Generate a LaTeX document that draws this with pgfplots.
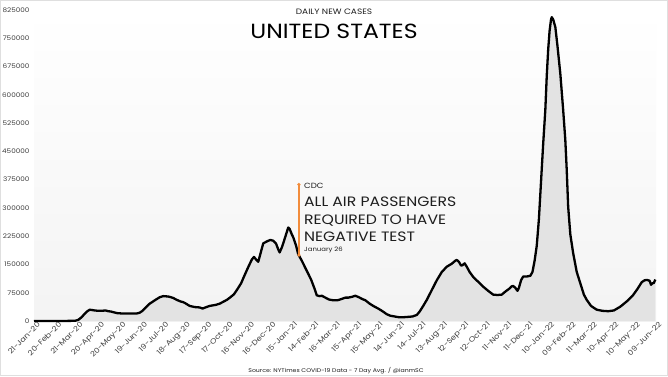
\documentclass[border=0pt]{standalone}
\usepackage{pgfplots}
\pgfplotsset{compat=1.18}
\usepackage{pgfplotstable}
\usepackage{fontspec}
\setmainfont{Poppins}[FakeStretch=1.15]
\definecolor{annot}{HTML}{F28C3C}
\definecolor{txt}{HTML}{1E1E1E}
\definecolor{areafill}{HTML}{E3E3E3}

\pgfplotstableread{
day cases
0 0
30 200
50 300
58 800
62 3000
66 9000
70 17000
74 25000
78 30000
85 28000
90 27000
95 27000
100 28000
104 26000
108 25000
112 23000
116 21000
123 20000
130 20000
137 20000
144 20000
148 22000
152 27000
156 35000
162 46000
166 51000
170 56000
176 63000
181 66000
188 65000
192 63000
195 61000
200 56000
205 52000
209 50000
212 47000
218 40000
225 37000
232 36000
236 33000
240 36000
246 40000
255 43000
260 46000
265 51000
270 56000
275 63000
280 71000
284 82000
290 100000
295 122000
300 143000
305 163000
308 170000
311 163000
314 157000
318 185000
321 206000
327 212000
331 215000
335 213000
339 205000
342 190000
344 182000
347 195000
350 212000
353 230000
356 248000
358 244000
361 230000
363 222000
367 200000
370 177000
375 160000
382 133000
388 110000
393 85000
396 68000
400 66000
403 67000
408 62000
413 57000
419 55000
425 55000
430 58000
436 62000
440 62000
445 64000
450 67000
455 63000
460 58000
464 55000
470 46000
476 39000
482 33000
488 26000
494 18000
499 14000
505 12000
511 10000
517 10000
524 11000
530 12000
536 16000
540 25000
545 40000
550 56000
557 82000
564 108000
571 130000
578 144000
585 152000
590 160000
592 162000
595 157000
598 147000
600 148000
603 153000
606 144000
610 130000
615 117000
622 104000
629 91000
636 80000
643 70000
649 69000
655 70000
660 78000
665 85000
669 92000
671 93000
674 88000
677 80000
679 88000
682 108000
685 118000
690 118000
695 120000
698 130000
701 160000
704 200000
707 270000
710 370000
713 470000
716 560000
718 650000
720 720000
722 770000
724 800000
725 806000
727 800000
730 780000
733 730000
737 656000
741 560000
744 480000
746 400000
748 303000
751 230000
755 180000
760 130000
765 100000
770 70000
774 56000
780 40000
788 30000
796 27000
804 26000
812 28000
821 38000
830 52000
839 69000
845 85000
851 103000
855 108000
858 109000
862 107000
864 96000
866 100000
868 101000
870 110000
}\casesdata

\begin{document}
\begin{tikzpicture}
\useasboundingbox (0pt,0pt) rectangle (668pt,376pt);
\fill[white] (0pt,0pt) rectangle (668pt,376pt);
\begin{axis}[
  at={(34pt,55pt)}, anchor=south west,
  scale only axis, width=622pt, height=311pt,
  xmin=0, xmax=871, ymin=0, ymax=825000,
  axis line style={draw=none}, tick style={draw=none},
  axis background/.style={shade, top color=white, bottom color=gray!9},
  ytick={0,75000,...,825000},
  scaled y ticks=false,
  /pgf/number format/assume math mode=true,
  yticklabel style={/pgf/number format/fixed, /pgf/number format/1000 sep={}, font=\fontsize{6.3}{7}\selectfont, text=txt!85, anchor=east, xshift=-1pt},
  xtick={0,30,...,870},
  xticklabels={21-Jan-20,20-Feb-20,21-Mar-20,20-Apr-20,20-May-20,19-Jun-20,19-Jul-20,18-Aug-20,17-Sep-20,17-Oct-20,16-Nov-20,16-Dec-20,15-Jan-21,14-Feb-21,16-Mar-21,15-Apr-21,15-May-21,14-Jun-21,14-Jul-21,13-Aug-21,12-Sep-21,12-Oct-21,11-Nov-21,11-Dec-21,10-Jan-22,09-Feb-22,11-Mar-22,10-Apr-22,10-May-22,09-Jun-22},
  xticklabel style={rotate=45, anchor=north east, font=\fontsize{7.2}{8}\selectfont, text=txt!85, inner sep=1pt, yshift=-1pt, xshift=3pt},
  clip=false,
]
\addplot[draw=none, fill=areafill] table[x=day, y=cases] {\casesdata} \closedcycle;
\addplot[black, line width=2.3pt, line join=round] table[x=day, y=cases] {\casesdata};
\draw[annot, line width=1.3pt] (axis cs:371,175000) -- (axis cs:371,362000);
\fill[annot] (axis cs:371,175000) circle (1.8pt);
\fill[annot] (axis cs:371,362000) circle (1.8pt);
\end{axis}
\node[anchor=base, text=txt, font=\fontsize{7.8}{9}\selectfont] at (334pt,362pt) {DAILY NEW CASES};
\node[anchor=base, text=black, font=\fontsize{20.5}{22}\selectfont] at (334pt,338pt) {UNITED STATES};
\node[anchor=base west, inner sep=0pt, text=txt, font=\fontsize{7.5}{8}\selectfont] at (304pt,188pt) {CDC};
\node[anchor=base west, inner sep=0pt, text=txt, font=\fontsize{13.6}{15}\selectfont] at (304pt,170pt) {ALL AIR PASSENGERS};
\node[anchor=base west, inner sep=0pt, text=txt, font=\fontsize{13.6}{15}\selectfont] at (304pt,152pt) {REQUIRED TO HAVE};
\node[anchor=base west, inner sep=0pt, text=txt, font=\fontsize{13.6}{15}\selectfont] at (304pt,134.5pt) {NEGATIVE TEST};
\node[anchor=base west, inner sep=0pt, text=txt, font=\fontsize{6}{7}\selectfont] at (304pt,124.5pt) {January 26};
\node[anchor=base, text=txt, font=\fontsize{5.4}{6}\selectfont] at (336pt,4pt) {Source: NYTimes COVID-19 Data - 7 Day Avg. / @ianmSC};
\draw[gray!25, line width=0.8pt] (0.4pt,0.4pt) rectangle (667.6pt,375.6pt);
\end{tikzpicture}
\end{document}
